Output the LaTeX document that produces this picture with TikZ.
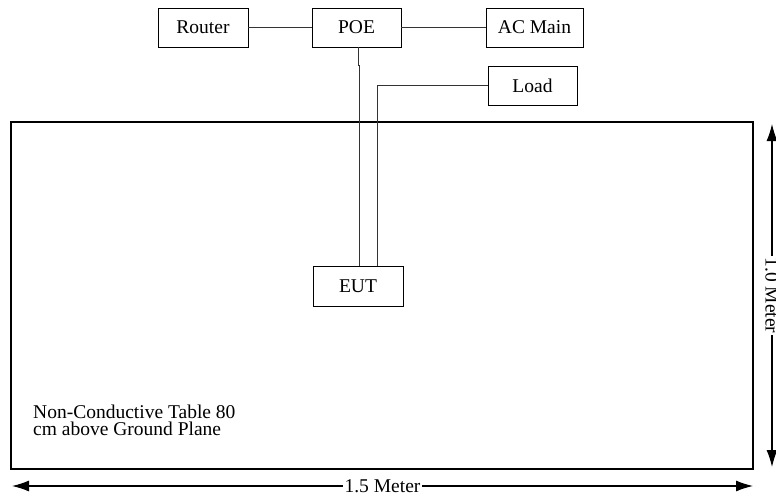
\documentclass[tikz,border=0pt]{standalone}
\usepackage{fontspec}
\setmainfont{Liberation Serif}
\usepackage{xcolor}
\usetikzlibrary{arrows.meta}
\definecolor{TBWire}{HTML}{333333}
\tikzset{
  devbox/.style={draw,line width=.9pt,inner sep=0pt,minimum height=39pt},
  wire/.style={TBWire,line width=.8pt},
  dimarrow/.style={line width=1.1pt,{Latex[length=17pt,width=11pt]}-{Latex[length=17pt,width=11pt]}},
  dimlabel/.style={fill=white,inner sep=1.5pt}
}

\begin{document}
\begin{tikzpicture}[x=1pt,y=-1pt,font=\fontsize{19.5}{17}\selectfont]
\path[use as bounding box] (0,0) rectangle (776,498);
\node[devbox,minimum width=90pt] (router) at (203,27.5) {Router};
\node[devbox,minimum width=89pt] (poe) at (356.5,27.5) {POE};
\node[devbox,minimum width=97pt] (acmain) at (534.5,27.5) {AC Main};
\node[devbox,minimum width=89pt] (load) at (532.5,85.5) {Load};
\node[draw,line width=2.4pt,minimum width=742pt,minimum height=347pt,inner sep=0pt] (tbl) at (382,295.5) {};
\node[devbox,minimum width=90pt,minimum height=40pt] (eut) at (358,286) {EUT};
\draw[wire] (router) -- (poe);
\draw[wire] (poe) -- (acmain);
\draw[wire] ([xshift=1.5pt]poe.south) -- ++(0,18) -- ++(1,0) -- ([xshift=1pt]eut.north);
\draw[wire] (load.west) -| ([xshift=19pt]eut.north);
\node[anchor=north west,align=left,inner sep=0pt] (tbltext) at (33,404.7) {Non-Conductive Table 80\\cm above Ground Plane};
\coordinate (wl) at (12,486);
\coordinate (wr) at (753,486);
\coordinate (ht) at (772,124);
\coordinate (hb) at (772,467);
\draw[dimarrow] (wl) -- node[dimlabel] (wlabel) {1.5 Meter} (wr);
\draw[dimarrow] (ht) -- node[dimlabel,rotate=-90] (hlabel) {1.0 Meter} (hb);
\end{tikzpicture}
\end{document}
